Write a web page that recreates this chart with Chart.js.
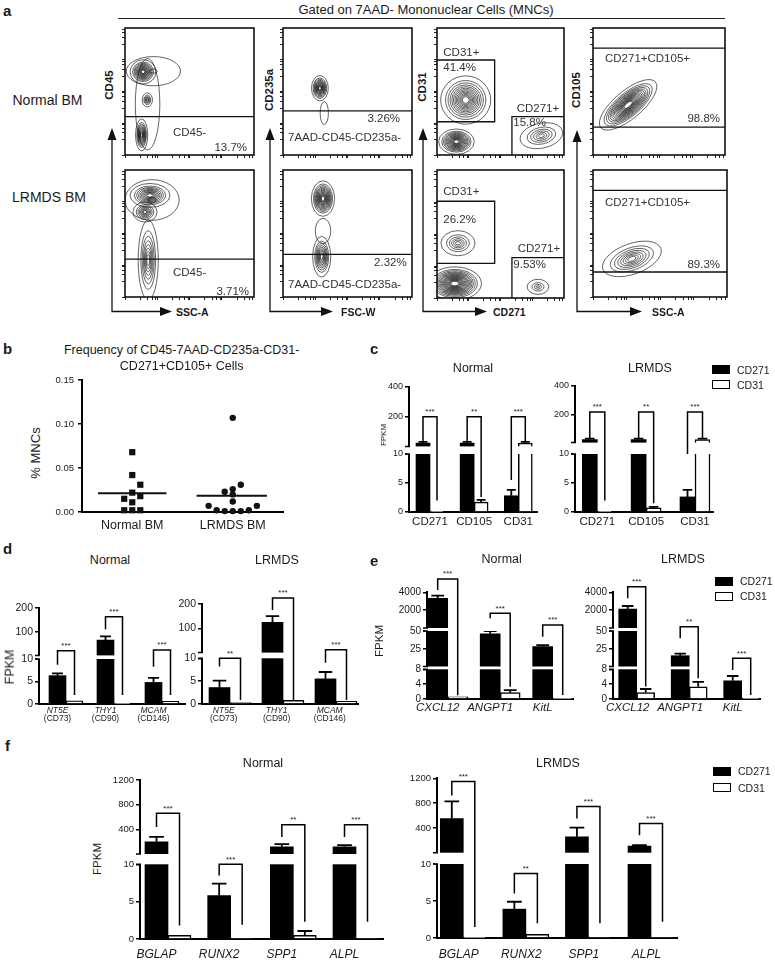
<!DOCTYPE html>
<html>
<head>
<meta charset="utf-8">
<script src="https://cdn.jsdelivr.net/npm/chart.js@4.4.1/dist/chart.umd.min.js"></script>
<style>
  body { margin: 0; background: #fff; }
  #fig { position: relative; width: 775px; height: 960px; overflow: hidden; font-family: Arial, "Liberation Sans", sans-serif; color: #1a1a1a; }
  #fig canvas { position: absolute; }
  #fig svg { position: absolute; left: 0; top: 0; }
  .t { position: absolute; white-space: nowrap; line-height: 1; }
  .box { position: absolute; box-sizing: border-box; }
</style>
</head>
<body>
<div id="fig">
  <svg width="775" height="960">
    <line x1="118" y1="18.5" x2="725" y2="18.5" stroke="#222" stroke-width="1"/>
    <g stroke="#111" stroke-width="1.3" fill="none">
      <polyline points="112,138 112,311.5 162,311.5"/>
      <polyline points="270,138 270,311.5 323,311.5"/>
      <polyline points="423,138 423,311.5 477,311.5"/>
      <polyline points="577,138 577,311.5 632,311.5"/>
    </g>
    <g fill="#111">
      <polygon points="112,128 107.5,140 116.5,140"/>
      <polygon points="172,311.5 160,307 160,316"/>
      <polygon points="270,128 265.5,140 274.5,140"/>
      <polygon points="333,311.5 321,307 321,316"/>
      <polygon points="423,128 418.5,140 427.5,140"/>
      <polygon points="487,311.5 475,307 475,316"/>
      <polygon points="577,130 572.5,142 581.5,142"/>
      <polygon points="642,311.5 630,307 630,316"/>
    </g>
  </svg>
</div>
<script>
// ---------- a: flow gates (axis units 0-100) ----------
const gateCD45Normal = [[0, 30.2], [100, 30.2]];
const gateCD45Lrmds = [[0, 29.9], [100, 29.9]];
const gateCD235Normal = [[0, 34.7], [100, 34.7]];
const gateCD235Lrmds = [[0, 33.6], [100, 33.6]];
const gateCD31Normal = [[0, 74.8], [45.4, 74.8], [45.4, 26.2], [0, 26.2]];
const gateCD271Normal = [[59, 0], [59, 30.2], [100, 30.2]];
const gateCD31Lrmds = [[0, 75.6], [45.4, 75.6], [45.4, 27.1], [0, 27.1]];
const gateCD271Lrmds = [[59, 0], [59, 31.5], [100, 31.5]];
const gateCD105HiNormal = [[0, 84.2], [100, 84.2]];
const gateCD105LoNormal = [[0, 21.9], [100, 21.9]];
const gateCD105HiLrmds = [[0, 84], [100, 84]];
const gateCD105LoLrmds = [[0, 19.7], [100, 19.7]];

// populations: [x, y, spreadX, spreadY, tilt, levels]
const popsCD45Normal = [[22, 66, 21, 11.5, 0, 2], [14, 65.5, 10, 9.5, 0, 13], [17.5, 40, 9.5, 36, 0, 1], [17.3, 43.4, 4, 5.5, 0, 6], [12.9, 15.8, 4.7, 12.6, 0, 11]];
const popsCD45Lrmds = [[21, 76.4, 21, 16, 0, 2], [19.4, 80, 15.5, 9.4, 0, 11], [15.5, 66.9, 9.3, 7.9, 0, 8], [18, 29.1, 7.8, 31.5, 0, 8]];
const popsCD235Normal = [[28.6, 52.6, 6.5, 10, 0, 13], [32, 33, 3.2, 9, 0, 1]];
const popsCD235Lrmds = [[31, 77.5, 9, 14, 0, 15], [31, 52, 6, 10, 0, 1], [30, 31.7, 7, 16, 0, 10]];
const popsCD31Normal = [[22.6, 43.3, 19.7, 19, 0, 13], [15.3, 10.5, 14, 10, 0, 15], [82.2, 15.2, 17, 9.8, 12, 6]];
const popsCD31Lrmds = [[16.5, 42.8, 13.4, 9.8, 0, 6], [14, 11.3, 21, 13, 0, 19], [79.5, 8.7, 8.5, 5.9, 0, 4]];
const popsCD105Normal = [[26.6, 39.5, 27, 11, 40, 17]];
const popsCD105Lrmds = [[29, 30, 23, 12, 20, 8]];

// ---------- b: frequency of CD271+CD105+ cells ----------
const freqGroups = ['Normal BM', 'LRMDS BM'];
const freqTicks = [0, 0.05, 0.10, 0.15];
const freqNormal = [0.068, 0.042, 0.031, 0.022, 0.018, 0.015, 0.011, 0.002, 0.002, 0.002];
const freqNormalX = [1.0, 1.0, 1.08, 1.0, 1.08, 0.92, 1.0, 0.92, 1.0, 1.08];
const freqLrmds = [0.107, 0.031, 0.026, 0.023, 0.020, 0.012, 0.007, 0.007, 0.002, 0.001, 0.001, 0.001, 0.002];
const freqLrmdsX = [2.0, 2.08, 2.0, 1.92, 2.0, 2.0, 1.76, 2.24, 1.84, 1.92, 2.0, 2.08, 2.16];

// ---------- c ----------
const cGenes = ['CD271', 'CD105', 'CD31'];
const cTicks = [0, 5, 10, 200, 400];
const cNormalCD271 = [22, 22, 2.8], cNormalCD271Err = [8, 8, 1.0];
const cNormalCD31 = [0.05, 1.7, 22], cNormalCD31Err = [0, 0.4, 8];
const cLrmdsCD271 = [22, 22, 2.6], cLrmdsCD271Err = [6, 6, 1.2];
const cLrmdsCD31 = [0.05, 0.7, 22], cLrmdsCD31Err = [0, 0.2, 6];
// brackets: [top, left leg start, right leg end]
const cNormalSig = [[200, 30, 2.0], [200, 30, 2.6], [200, 5.5, 30]];
const cNormalStars = ['***', '**', '***'];
const cLrmdsSig = [[216, 30, 2.0], [216, 30, 1.5], [216, 10, 30]];
const cLrmdsStars = ['***', '**', '***'];

// ---------- d ----------
const dGenes = ['NT5E', 'THY1', 'MCAM'];
const dProteins = ['(CD73)', '(CD90)', '(CD146)'];
const dTicks = [0, 5, 10, 100, 200];
const dNormalCD271 = [6.3, 65, 4.8], dNormalCD271Err = [0.5, 15, 1.0];
const dNormalCD31 = [0.7, 0.1, 0.6], dNormalCD31Err = [0, 0, 0];
const dLrmdsCD271 = [3.6, 125, 5.5], dLrmdsCD271Err = [1.5, 25, 1.5];
const dLrmdsCD31 = [0.3, 0.8, 0.6], dLrmdsCD31Err = [0, 0, 0];
const dNormalSig = [[20, 8.7, 2], [163, 110, 2], [23, 8.3, 2]];
const dNormalStars = ['***', '***', '***'];
const dLrmdsSig = [[10, 8.2, 0.9], [225, 175, 0.9], [12, 9, 0.9]];
const dLrmdsStars = ['**', '***', '***'];

// ---------- e ----------
const eGenes = ['CXCL12', 'ANGPT1', 'KitL'];
const eTicks = [0, 4, 8, 25, 50, 2000, 4000];
const eNormalCD271 = [3330, 46, 28], eNormalCD271Err = [290, 4, 2];
const eNormalCD31 = [0.6, 1.7, 0.1], eNormalCD31Err = [0, 0.7, 0];
const eLrmdsCD271 = [2130, 15.2, 4.9], eLrmdsCD271Err = [335, 2.8, 1.3];
const eLrmdsCD31 = [1.7, 3.3, 0.1], eLrmdsCD31Err = [1.0, 1.3, 0];
const eNormalSig = [[5490, 4258, 1], [1647, 1087, 3.3], [336, 42, 1.1]];
const eNormalStars = ['***', '***', '***'];
const eLrmdsSig = [[4627, 3328, 3.4], [150, 39.7, 5.6], [11.5, 7.8, 1.1]];
const eLrmdsStars = ['***', '**', '***'];

// ---------- f ----------
const fGenes = ['BGLAP', 'RUNX2', 'SPP1', 'ALPL'];
const fTicks = [0, 5, 10, 400, 800, 1200];
const fNormalCD271 = [197, 5.8, 117, 117], fNormalCD271Err = [80, 1.6, 43, 27];
const fNormalCD31 = [0.5, 0.1, 0.5, 0.1], fNormalCD31Err = [0, 0, 0.57, 0];
const fLrmdsCD271 = [550, 3.9, 256, 107], fLrmdsCD271Err = [277, 1.0, 150, 16];
const fLrmdsCD31 = [0.05, 0.5, 0.1, 0.1], fLrmdsCD31Err = [0, 0, 0, 0];
const fNormalSig = [[660, 437, 1.8], [10, 8.5, 1.9], [475, 277, 2.3], [475, 277, 2.3]];
const fNormalStars = ['***', '***', '**', '***'];
const fLrmdsSig = [[1147, 923, 1.5], [8.7, 6, 2], [747, 550, 2], [470, 283, 2.2]];
const fLrmdsStars = ['***', '**', '***', '***'];

Chart.defaults.font.family = 'Arial, "Liberation Sans", sans-serif';
Chart.defaults.color = '#1a1a1a';
const fig = document.getElementById('fig');

// linear scale cut into stacked segments (GraphPad style broken axis)
class BrokenScale extends Chart.LinearScale {
  getPixelForValue(v) {
    const segs = this.chart.canvas._segs;
    let s = segs[segs.length - 1];
    for (const g of segs) { if (v <= g[1]) { s = g; break; } }
    const f = s[2] + (Math.max(v, s[0]) - s[0]) / (s[1] - s[0]) * (s[3] - s[2]);
    return this.bottom - f * (this.bottom - this.top);
  }
}
BrokenScale.id = 'broken';
BrokenScale.defaults = Chart.LinearScale.defaults;
Chart.register(BrokenScale);

function txt(s, x, y, o = {}) {
  const d = document.createElement('div');
  d.className = 't';
  d.textContent = s;
  d.style.left = x + 'px';
  d.style.top = y + 'px';
  d.style.fontSize = (o.size || 11) + 'px';
  if (o.bold) d.style.fontWeight = 'bold';
  if (o.italic) d.style.fontStyle = 'italic';
  if (o.color) d.style.color = o.color;
  const ax = o.align === 'right' ? '-100%' : o.align === 'left' ? '0' : '-50%';
  d.style.transform = `translate(${ax}, -50%)` + (o.rot ? ' rotate(-90deg)' : '');
  fig.appendChild(d);
}

function legendBox(x, y, fill) {
  const d = document.createElement('div');
  d.className = 'box';
  Object.assign(d.style, { left: x + 'px', top: y + 'px', width: '18px', height: '9px', background: fill, border: '1.5px solid #000' });
  fig.appendChild(d);
}

function placeCanvas(box, padT, yw, padR, xh) {
  const c = document.createElement('canvas');
  c.width = box.r - box.l + yw + padR;
  c.height = box.b - box.t + padT + xh;
  c.style.left = (box.l - yw) + 'px';
  c.style.top = (box.t - padT) + 'px';
  fig.appendChild(c);
  return c;
}

const roundBox = b => ({ l: Math.round(b.l), t: Math.round(b.t), r: Math.round(b.r), b: Math.round(b.b) });

// ---------- flow plots ----------
function flowTicks() {
  const t = [];
  for (let d = 0; d < 100; d += 25) for (let k = 1; k < 10; k += 2) t.push({ value: d + 25 * Math.log10(k) });
  return t;
}

const contourPlugin = {
  id: 'contours',
  beforeDatasetsDraw(chart) {
    const { ctx, chartArea: a, scales: { x, y } } = chart;
    ctx.save();
    ctx.beginPath();
    ctx.rect(a.left, a.top, a.right - a.left, a.bottom - a.top);
    ctx.clip();
    ctx.strokeStyle = 'rgba(25,25,25,0.85)';
    ctx.lineWidth = 0.8;
    for (const [px, py, sx, sy, tilt, n] of chart.canvas._pops) {
      const cx = x.getPixelForValue(px), cy = y.getPixelForValue(py);
      const rx = x.getPixelForValue(px + sx) - cx, ry = cy - y.getPixelForValue(py + sy);
      for (let i = 0; i < n; i++) {
        const k = n === 1 ? 1 : 1 - 0.86 * Math.pow(i / (n - 1), 0.6);
        ctx.beginPath();
        ctx.ellipse(cx, cy, rx * k, ry * k, -tilt * Math.PI / 180, 0, Math.PI * 2);
        ctx.stroke();
      }
    }
    ctx.restore();
  },
  afterDraw(chart) {
    const { ctx, chartArea: a } = chart;
    ctx.save();
    ctx.strokeStyle = '#111';
    ctx.lineWidth = 1.6;
    ctx.strokeRect(a.left, a.top, a.right - a.left, a.bottom - a.top);
    ctx.restore();
  }
};

function flowAxis(fit) {
  return {
    min: 0, max: 100,
    afterBuildTicks: s => { s.ticks = flowTicks(); },
    ticks: { display: false },
    grid: { drawOnChartArea: false, tickLength: 3, color: '#222', lineWidth: 1 },
    border: { display: false },
    afterFit: fit
  };
}

function flowPlot(b, gates, pops) {
  const box = roundBox(b);
  const canvas = placeCanvas(box, 2, 5, 2, 5);
  canvas._pops = pops;
  new Chart(canvas, {
    type: 'scatter',
    data: {
      datasets: gates.map(g => ({
        data: g.map(([x, y]) => ({ x, y })),
        showLine: true, borderColor: '#111', borderWidth: 1.3, pointRadius: 0
      }))
    },
    options: {
      responsive: false, animation: false, events: [], devicePixelRatio: 1,
      layout: { padding: { top: 2, right: 2, left: 0, bottom: 0 } },
      plugins: { legend: { display: false }, tooltip: { enabled: false } },
      scales: {
        x: flowAxis(s => { s.height = 5; }),
        y: flowAxis(s => { s.width = 5; })
      }
    },
    plugins: [contourPlugin]
  });
}

flowPlot({ l: 125, t: 28, r: 254, b: 155 }, [gateCD45Normal], popsCD45Normal);
flowPlot({ l: 125, t: 170, r: 254, b: 297 }, [gateCD45Lrmds], popsCD45Lrmds);
flowPlot({ l: 283, t: 28, r: 412, b: 155 }, [gateCD235Normal], popsCD235Normal);
flowPlot({ l: 283, t: 170, r: 412, b: 297 }, [gateCD235Lrmds], popsCD235Lrmds);
flowPlot({ l: 437, t: 28, r: 564, b: 155 }, [gateCD31Normal, gateCD271Normal], popsCD31Normal);
flowPlot({ l: 437, t: 170, r: 564, b: 298 }, [gateCD31Lrmds, gateCD271Lrmds], popsCD31Lrmds);
flowPlot({ l: 593, t: 28, r: 725, b: 155 }, [gateCD105HiNormal, gateCD105LoNormal], popsCD105Normal);
flowPlot({ l: 593, t: 170, r: 727, b: 297 }, [gateCD105HiLrmds, gateCD105LoLrmds], popsCD105Lrmds);

// ---------- panel b ----------
(function () {
  const box = { l: 82, t: 380, r: 283, b: 512 };
  const canvas = placeCanvas(box, 10, 34, 6, 28);
  const mean = a => a.reduce((s, v) => s + v, 0) / a.length;
  const mN = mean(freqNormal), mL = mean(freqLrmds);
  new Chart(canvas, {
    type: 'scatter',
    data: {
      datasets: [
        { data: freqNormal.map((v, i) => ({ x: freqNormalX[i], y: v })), pointStyle: 'rect', pointRadius: 4.4, backgroundColor: '#111', borderWidth: 0, clip: false },
        { data: freqLrmds.map((v, i) => ({ x: freqLrmdsX[i], y: v })), pointStyle: 'circle', pointRadius: 3.2, backgroundColor: '#111', borderWidth: 0, clip: false },
        { data: [{ x: 0.66, y: mN }, { x: 1.34, y: mN }], showLine: true, pointRadius: 0, borderColor: '#111', borderWidth: 1.8 },
        { data: [{ x: 1.64, y: mL }, { x: 2.34, y: mL }], showLine: true, pointRadius: 0, borderColor: '#111', borderWidth: 1.8 }
      ]
    },
    options: {
      responsive: false, animation: false, events: [], devicePixelRatio: 1,
      layout: { padding: { top: 10, right: 6, left: 0, bottom: 0 } },
      plugins: { legend: { display: false }, tooltip: { enabled: false } },
      scales: {
        x: {
          min: 0.5, max: 2.5,
          afterBuildTicks: s => { s.ticks = freqGroups.map((g, i) => ({ value: i + 1 })); },
          ticks: { autoSkip: false, maxRotation: 0, callback: (v, i) => freqGroups[i], font: { size: 12.5 }, padding: 6 },
          grid: { display: false, drawTicks: false },
          border: { color: '#000', width: 2 },
          afterFit: s => { s.height = 28; }
        },
        y: {
          min: 0, max: 0.15,
          afterBuildTicks: s => { s.ticks = freqTicks.map(v => ({ value: v })); },
          ticks: { autoSkip: false, callback: v => v.toFixed(2), font: { size: 9.5 }, padding: 4 },
          grid: { drawOnChartArea: false, tickLength: 4, color: '#000', lineWidth: 1.5 },
          border: { color: '#000', width: 2 },
          afterFit: s => { s.width = 34; }
        }
      }
    }
  });
})();

// ---------- bar panels with broken axes ----------
const barDeco = {
  id: 'barDeco',
  afterDatasetsDraw(chart) {
    const o = chart.canvas._deco, segs = chart.canvas._segs;
    const { ctx, chartArea: a } = chart, y = chart.scales.y;
    ctx.save();
    ctx.strokeStyle = '#000';
    // one-sided error bars
    [o.aErr, o.bErr].forEach((errs, d) => {
      const vals = d ? o.b : o.a;
      chart.getDatasetMeta(d).data.forEach((el, i) => {
        if (!errs[i]) return;
        const yt = y.getPixelForValue(vals[i] + errs[i]);
        const hw = el.width * 0.32;
        ctx.lineWidth = 1.8;
        ctx.beginPath();
        ctx.moveTo(el.x, el.y); ctx.lineTo(el.x, yt);
        ctx.moveTo(el.x - hw, yt); ctx.lineTo(el.x + hw, yt);
        ctx.stroke();
      });
    });
    // axis breaks
    const H = a.bottom - a.top;
    for (let s = 0; s < segs.length - 1; s++) {
      const y1 = a.bottom - segs[s][3] * H, y2 = a.bottom - segs[s + 1][2] * H;
      ctx.fillStyle = '#fff';
      ctx.fillRect(a.left - 2, y2, a.right - a.left + 2, y1 - y2);
      ctx.lineWidth = 1.5;
      ctx.beginPath();
      ctx.moveTo(a.left - 4, y1); ctx.lineTo(a.left + 1, y1);
      ctx.moveTo(a.left - 4, y2); ctx.lineTo(a.left + 1, y2);
      ctx.stroke();
    }
    // significance brackets
    const m0 = chart.getDatasetMeta(0).data, m1 = chart.getDatasetMeta(1).data;
    ctx.lineWidth = 1.5;
    ctx.fillStyle = '#1a1a1a';
    ctx.font = '8px Arial';
    ctx.textAlign = 'center';
    ctx.textBaseline = 'bottom';
    o.sig.forEach(([top, from, to], i) => {
      const xl = m0[i].x, xr = m1[i].x, yt = y.getPixelForValue(top);
      ctx.beginPath();
      ctx.moveTo(xl, y.getPixelForValue(from));
      ctx.lineTo(xl, yt); ctx.lineTo(xr, yt);
      ctx.lineTo(xr, y.getPixelForValue(to));
      ctx.stroke();
      ctx.fillText(o.stars[i], (xl + xr) / 2, yt - 1);
    });
    ctx.restore();
  },
  afterDraw(chart) {
    const o = chart.canvas._deco;
    const { ctx, chartArea: a } = chart;
    const m0 = chart.getDatasetMeta(0).data;
    ctx.save();
    ctx.fillStyle = '#1a1a1a';
    ctx.textAlign = 'center';
    ctx.textBaseline = 'middle';
    o.labels.forEach((line, j) => {
      ctx.font = o.labelFonts[j];
      line.forEach((t, i) => ctx.fillText(t, m0[i].x + m0[i].width * (0.5 + o.shift), a.bottom + o.labelDy[j]));
    });
    ctx.restore();
  }
};

function barPanel(b, o) {
  const box = roundBox(b);
  const canvas = placeCanvas(box, 34, 34, 6, 30);
  const H = box.b - box.t;
  canvas._segs = o.segs.map(s => [s[0], s[1], (box.b - s[2]) / H, (box.b - s[3]) / H]);
  canvas._deco = o;
  const n = o.a.length, c = o.centers;
  const sp = (c[n - 1] - c[0]) / (n - 1);
  new Chart(canvas, {
    type: 'bar',
    data: {
      datasets: [
        { data: o.a.map((v, i) => ({ x: i + 1, y: v })), backgroundColor: '#000', borderWidth: 0, barThickness: o.w },
        { data: o.b.map((v, i) => ({ x: i + 1, y: v })), backgroundColor: '#fff', borderColor: '#000', borderWidth: 1.5, barThickness: o.w }
      ]
    },
    options: {
      responsive: false, animation: false, events: [], devicePixelRatio: 1,
      layout: { padding: { top: 34, right: 6, left: 0, bottom: 0 } },
      plugins: { legend: { display: false }, tooltip: { enabled: false } },
      scales: {
        x: {
          type: 'linear', offset: false,
          min: 1 - (c[0] - box.l) / sp, max: n + (box.r - c[n - 1]) / sp,
          ticks: { display: false },
          grid: { display: false, drawTicks: false },
          border: { color: '#000', width: 2 },
          afterFit: s => { s.height = 30; }
        },
        y: {
          type: 'broken', min: 0, max: o.ticks[o.ticks.length - 1],
          afterBuildTicks: s => { s.ticks = o.ticks.map(v => ({ value: v })); },
          ticks: { autoSkip: false, callback: v => String(v), font: { size: o.tickSize }, padding: 2 },
          grid: { drawOnChartArea: false, tickLength: 4, color: '#000', lineWidth: 1.5 },
          border: { color: '#000', width: 2 },
          afterFit: s => { s.width = 34; }
        }
      }
    },
    plugins: [barDeco]
  });
}

// c
barPanel({ l: 409, t: 387, r: 537, b: 512 }, {
  a: cNormalCD271, aErr: cNormalCD271Err, b: cNormalCD31, bErr: cNormalCD31Err, sig: cNormalSig, stars: cNormalStars,
  centers: [430, 474.3, 518.3], w: 14, segs: [[0, 10, 512, 454], [0, 400, 446.4, 387]], ticks: cTicks, tickSize: 9,
  labels: [cGenes], labelFonts: ['11.5px Arial'], labelDy: [10], shift: 0
});
barPanel({ l: 575, t: 386, r: 713, b: 512 }, {
  a: cLrmdsCD271, aErr: cLrmdsCD271Err, b: cLrmdsCD31, bErr: cLrmdsCD31Err, sig: cLrmdsSig, stars: cLrmdsStars,
  centers: [597.3, 646.7, 695], w: 15, segs: [[0, 10, 512, 454], [0, 400, 442.6, 386]], ticks: cTicks, tickSize: 9,
  labels: [cGenes], labelFonts: ['11.5px Arial'], labelDy: [10], shift: 0
});
// d
barPanel({ l: 39, t: 608, r: 185, b: 704 }, {
  a: dNormalCD271, aErr: dNormalCD271Err, b: dNormalCD31, bErr: dNormalCD31Err, sig: dNormalSig, stars: dNormalStars,
  centers: [66, 114, 162], w: 17, segs: [[0, 10, 704, 659], [0, 200, 655.4, 608]], ticks: dTicks, tickSize: 10.5,
  labels: [dGenes, dProteins], labelFonts: ['italic 8.5px Arial', '8.5px Arial'], labelDy: [6.5, 15], shift: -0.5
});
barPanel({ l: 202, t: 604, r: 358, b: 704 }, {
  a: dLrmdsCD271, aErr: dLrmdsCD271Err, b: dLrmdsCD31, bErr: dLrmdsCD31Err, sig: dLrmdsSig, stars: dLrmdsStars,
  centers: [230, 279.3, 336], w: 21, segs: [[0, 10, 704, 658.3], [0, 200, 652.6, 604]], ticks: dTicks, tickSize: 10.5,
  labels: [dGenes, dProteins], labelFonts: ['italic 8.5px Arial', '8.5px Arial'], labelDy: [6.5, 15], shift: -0.3
});
// e
const eSegs = [[0, 8, 699, 669.3], [0, 50, 666.5, 631], [0, 4000, 628, 592.3]];
barPanel({ l: 427, t: 592, r: 573, b: 699 }, {
  a: eNormalCD271, aErr: eNormalCD271Err, b: eNormalCD31, bErr: eNormalCD31Err, sig: eNormalSig, stars: eNormalStars,
  centers: [447.7, 500, 552.7], w: 20, segs: eSegs, ticks: eTicks, tickSize: 10,
  labels: [eGenes], labelFonts: ['italic 11.5px Arial'], labelDy: [8.5], shift: -0.5
});
barPanel({ l: 613, t: 592, r: 760, b: 699 }, {
  a: eLrmdsCD271, aErr: eLrmdsCD271Err, b: eLrmdsCD31, bErr: eLrmdsCD31Err, sig: eLrmdsSig, stars: eLrmdsStars,
  centers: [636.7, 688, 741.7], w: 18, segs: eSegs, ticks: eTicks, tickSize: 10,
  labels: [eGenes], labelFonts: ['italic 11.5px Arial'], labelDy: [8.5], shift: -0.5
});
// f
barPanel({ l: 140, t: 780, r: 383, b: 939 }, {
  a: fNormalCD271, aErr: fNormalCD271Err, b: fNormalCD31, bErr: fNormalCD31Err, sig: fNormalSig, stars: fNormalStars,
  centers: [168, 231.7, 293, 356], w: 23, segs: [[0, 10, 939, 864.3], [0, 1200, 854, 780]], ticks: fTicks, tickSize: 9.5,
  labels: [fGenes], labelFonts: ['italic 12px Arial'], labelDy: [16], shift: -0.5
});
barPanel({ l: 437, t: 778, r: 677, b: 938 }, {
  a: fLrmdsCD271, aErr: fLrmdsCD271Err, b: fLrmdsCD31, bErr: fLrmdsCD31Err, sig: fLrmdsSig, stars: fLrmdsStars,
  centers: [463.3, 526, 588.3, 651], w: 23, segs: [[0, 10, 938, 864], [0, 1200, 852.7, 778.3]], ticks: fTicks, tickSize: 9.5,
  labels: [fGenes], labelFonts: ['italic 12px Arial'], labelDy: [16.5], shift: -0.2
});

// ---------- text ----------
[['a', 3, 10], ['b', 3, 348], ['c', 370, 348], ['d', 3, 548], ['e', 370, 560], ['f', 5, 745]]
  .forEach(([s, x, y]) => txt(s, x, y, { size: 15, bold: true, align: 'left' }));

txt('Gated on 7AAD- Mononuclear Cells (MNCs)', 426, 9, { size: 13 });
txt('Normal BM', 47.5, 100, { size: 14 });
txt('LRMDS BM', 49, 197, { size: 14 });
txt('CD45', 110, 85, { size: 11.5, bold: true, rot: true });
txt('CD235a', 270, 90, { size: 11.5, bold: true, rot: true });
txt('CD31', 423, 87, { size: 11.5, bold: true, rot: true });
txt('CD105', 577, 90, { size: 11.5, bold: true, rot: true });
txt('SSC-A', 176, 311.5, { size: 10.5, bold: true, align: 'left' });
txt('FSC-W', 341, 311.5, { size: 10.5, bold: true, align: 'left' });
txt('CD271', 493, 311.5, { size: 10.5, bold: true, align: 'left' });
txt('SSC-A', 652, 311.5, { size: 10.5, bold: true, align: 'left' });

const g = { size: 11.5, color: '#333' };
txt('CD45-', 173, 133.3, { ...g, align: 'left' });
txt('13.7%', 247, 148.3, { ...g, align: 'right' });
txt('CD45-', 173, 273.3, { ...g, align: 'left' });
txt('3.71%', 249, 291.7, { ...g, align: 'right' });
txt('3.26%', 400, 119, { ...g, align: 'right' });
txt('7AAD-CD45-CD235a-', 288, 138, { ...g, align: 'left' });
txt('2.32%', 406.7, 263.3, { ...g, align: 'right' });
txt('7AAD-CD45-CD235a-', 288, 285, { ...g, align: 'left' });
txt('CD31+', 443.3, 53.3, { ...g, align: 'left' });
txt('41.4%', 443.3, 67.7, { ...g, align: 'left' });
txt('CD271+', 516.7, 109.3, { ...g, align: 'left' });
txt('15.8%', 513.3, 122.7, { ...g, align: 'left' });
txt('CD31+', 443.3, 192.3, { ...g, align: 'left' });
txt('26.2%', 443.3, 220, { ...g, align: 'left' });
txt('CD271+', 517.7, 249.3, { ...g, align: 'left' });
txt('9.53%', 513.3, 265, { ...g, align: 'left' });
txt('CD271+CD105+', 605, 59, { ...g, align: 'left' });
txt('98.8%', 720, 119.3, { ...g, align: 'right' });
txt('CD271+CD105+', 605, 203.3, { ...g, align: 'left' });
txt('89.3%', 720, 265, { ...g, align: 'right' });

txt('Frequency of CD45-7AAD-CD235a-CD31-', 181.7, 350, { size: 12.5 });
txt('CD271+CD105+ Cells', 181.7, 365.5, { size: 12.5 });
txt('% MNCs', 35, 453, { size: 13, rot: true });

txt('Normal', 473, 368, { size: 12.5 });
txt('LRMDS', 650, 368, { size: 12.5 });
txt('FPKM', 384, 435, { size: 8, rot: true });
txt('Normal', 110, 560, { size: 12.5 });
txt('LRMDS', 277, 560, { size: 12.5 });
txt('FPKM', 10, 667, { size: 12.5, rot: true });
txt('Normal', 501.7, 559.3, { size: 12.5 });
txt('LRMDS', 683, 559.3, { size: 12.5 });
txt('FPKM', 380, 641, { size: 11.5, rot: true });
txt('Normal', 263, 763, { size: 12.5 });
txt('LRMDS', 558, 763, { size: 12.5 });
txt('FPKM', 98, 859, { size: 11.5, rot: true });

// legends
[[712, 365, 380], [715, 576.5, 591.5], [713, 766.5, 783]].forEach(([x, y1, y2]) => {
  legendBox(x, y1, '#000');
  legendBox(x, y2, '#fff');
  txt('CD271', x + 25, y1 + 4.5, { size: 10.5, align: 'left' });
  txt('CD31', x + 25, y2 + 4.5, { size: 10.5, align: 'left' });
});
</script>
</body>
</html>
